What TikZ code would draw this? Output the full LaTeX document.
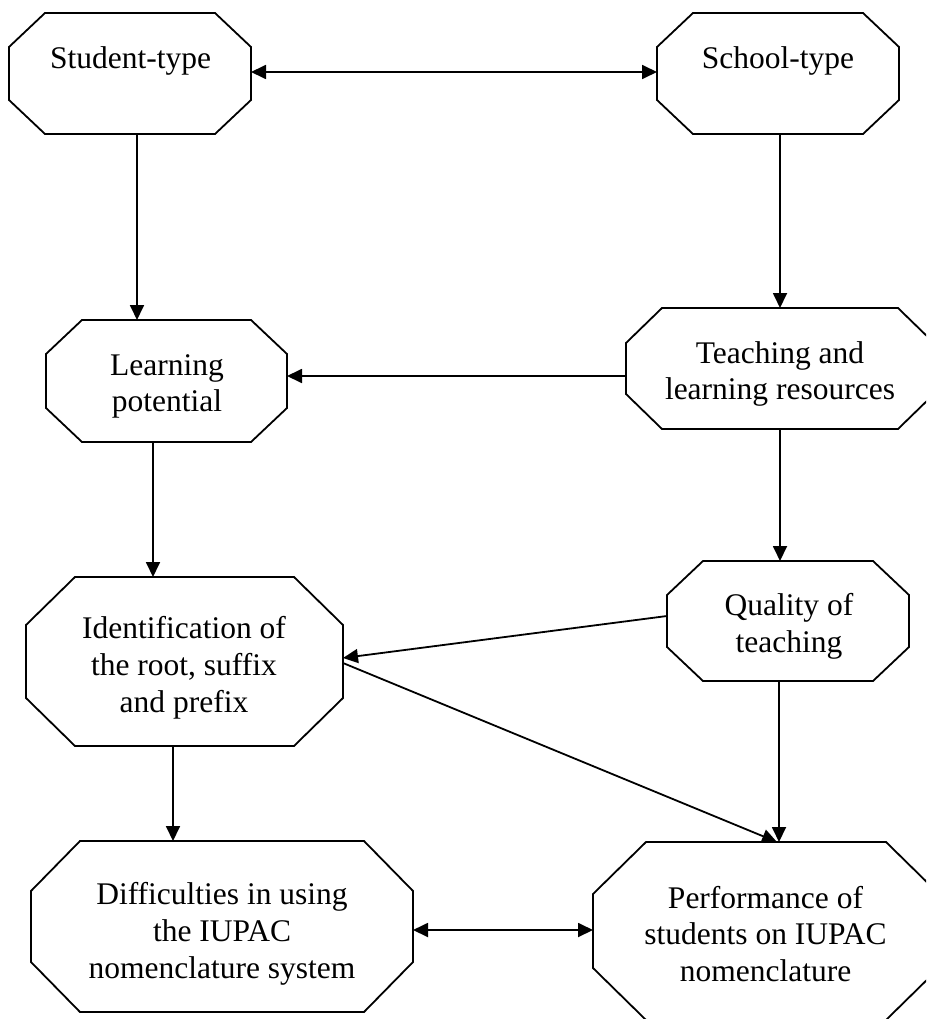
\documentclass[tikz,border=0pt]{standalone}
\usepackage{fontspec}
\setmainfont{Liberation Serif}
\usetikzlibrary{arrows.meta,calc}
\tikzset{
  boxn/.style={draw=none, rectangle, inner sep=0pt, outer sep=0pt},
  edge/.style={line width=1.8pt, line join=miter},
  txt/.style={inner sep=0pt, align=center, font={\fontsize{31.5}{36.8}\selectfont}},
  arr/.style={line width=1.8pt, -{Triangle[length=15pt,width=14pt]}},
  darr/.style={line width=1.8pt, {Triangle[length=15pt,width=14pt]}-{Triangle[length=15pt,width=14pt]}}
}
\newcommand{\octa}[7]{%
  \pgfmathsetmacro{\octw}{#4-#2}\pgfmathsetmacro{\octh}{#5-#3}%
  \node[boxn, minimum width=\octw pt, minimum height=\octh pt] (#1) at ({(#2+#4)/2},{(#3+#5)/2}) {};
  \draw[edge] (#2+#6,#3) -- (#4-#6,#3) -- (#4,#3+#7) -- (#4,#5-#7) -- (#4-#6,#5) -- (#2+#6,#5) -- (#2,#5-#7) -- (#2,#3+#7) -- cycle;
}
\begin{document}
\begin{tikzpicture}[x=1pt,y=-1pt]
\useasboundingbox (0,0) rectangle (926,1019);
\clip (0,0) rectangle (926,1019);
% boxes
\octa{st}{9}{13}{251}{134}{36}{34}
\octa{sc}{657}{13}{899}{134}{36}{34}
\octa{lp}{46}{320}{287}{442}{36}{34}
\octa{tl}{626}{308}{934}{429}{36}{35}
\octa{qt}{667}{561}{909}{681}{36}{34}
\octa{id}{26}{577}{343}{746}{49}{48}
\octa{df}{31}{841}{413}{1012}{49}{50}
\octa{pf}{593}{842}{939}{1020}{53}{52}
% texts
\node[txt] (stT) at (130.5,61) {Student-type};
\node[txt] (scT) at (778,61) {School-type};
\node[txt] (lpT) at (167,386.5) {Learning\\potential};
\node[txt] (tlT) at (780,374) {Teaching and\\learning resources};
\node[txt] (qtT) at (789,626) {Quality of\\teaching};
\node[txt] (idT) at (184,668) {Identification of\\the root, suffix\\and prefix};
\node[txt] (dfT) at (222,934) {Difficulties in using\\the IUPAC\\nomenclature system};
\node[txt] (pfT) at (765.5,934) {Performance of\\students on IUPAC\\nomenclature};
% connectors
\draw[darr] ($(st.north east)+(0,59)$) -- ($(sc.north west)+(0,59)$);
\draw[arr] ($(st.south west)+(128,0)$) -- ($(lp.north west)+(91,0)$);
\draw[arr] ($(sc.south west)+(123,0)$) -- ($(tl.north west)+(154,0)$);
\draw[arr] ($(tl.north west)+(0,68)$) -- ($(lp.north east)+(0,56)$);
\draw[arr] ($(lp.south west)+(107,0)$) -- ($(id.north west)+(127,0)$);
\draw[arr] ($(tl.south west)+(154,0)$) -- ($(qt.north west)+(113,0)$);
\draw[arr] ($(qt.north west)+(0,55)$) -- ($(id.north east)+(0,81)$);
\draw[arr] ($(id.north east)+(0,86)$) -- ($(pf.north west)+(184,0)$);
\draw[arr] ($(qt.south west)+(112,0)$) -- ($(pf.north west)+(186,0)$);
\draw[arr] ($(id.south west)+(147,0)$) -- ($(df.north west)+(142,0)$);
\draw[darr] ($(df.north east)+(0,89)$) -- ($(pf.north west)+(0,88)$);
\end{tikzpicture}
\end{document}
